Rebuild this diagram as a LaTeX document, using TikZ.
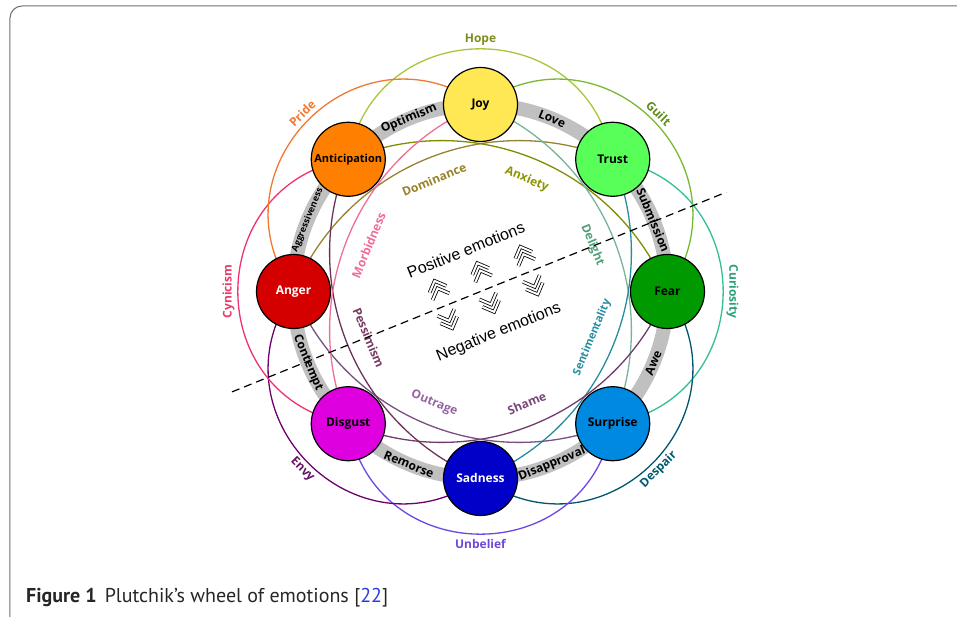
\documentclass[tikz,border=0pt]{standalone}
\usepackage{fontspec}
\usetikzlibrary{backgrounds}
\newfontfamily\lblfont{Open Sans}
\newfontfamily\moodfont{Liberation Sans}
\newfontfamily\capfont{PT Sans}

\definecolor{joycol}{RGB}{255,232,84}
\definecolor{trustcol}{RGB}{89,255,89}
\definecolor{fearcol}{RGB}{0,153,0}
\definecolor{surprisecol}{RGB}{0,137,224}
\definecolor{sadnesscol}{RGB}{0,0,200}
\definecolor{disgustcol}{RGB}{222,0,222}
\definecolor{angercol}{RGB}{212,0,0}
\definecolor{antcol}{RGB}{255,127,0}
\definecolor{bandgray}{RGB}{192,192,192}
\definecolor{framegray}{RGB}{110,110,110}
\definecolor{refblue}{RGB}{40,60,230}

\definecolor{hopeline}{RGB}{168,198,58}
\definecolor{hopetext}{RGB}{128,140,30}
\definecolor{guiltline}{RGB}{120,184,50}
\definecolor{guilttext}{RGB}{96,140,30}
\definecolor{curiosityline}{RGB}{50,190,150}
\definecolor{curiositytext}{RGB}{40,160,120}
\definecolor{despairline}{RGB}{0,85,110}
\definecolor{despairtext}{RGB}{0,90,110}
\definecolor{unbeliefline}{RGB}{110,70,230}
\definecolor{unbelieftext}{RGB}{110,70,220}
\definecolor{envyline}{RGB}{110,0,110}
\definecolor{envytext}{RGB}{100,20,100}
\definecolor{cynicismline}{RGB}{240,50,110}
\definecolor{cynicismtext}{RGB}{232,60,105}
\definecolor{prideline}{RGB}{240,120,50}
\definecolor{pridetext}{RGB}{240,120,50}

\definecolor{dominanceline}{RGB}{150,130,50}
\definecolor{dominancetext}{RGB}{150,130,40}
\definecolor{anxietyline}{RGB}{130,140,0}
\definecolor{anxietytext}{RGB}{140,150,0}
\definecolor{delightline}{RGB}{120,180,150}
\definecolor{delighttext}{RGB}{80,160,120}
\definecolor{sentimentline}{RGB}{40,140,160}
\definecolor{sentimenttext}{RGB}{40,140,160}
\definecolor{shameline}{RGB}{110,60,110}
\definecolor{shametext}{RGB}{120,70,120}
\definecolor{outrageline}{RGB}{120,80,130}
\definecolor{outragetext}{RGB}{150,100,160}
\definecolor{pessimismline}{RGB}{110,50,90}
\definecolor{pessimismtext}{RGB}{120,60,100}
\definecolor{morbidline}{RGB}{240,110,150}
\definecolor{morbidtext}{RGB}{240,110,150}

\tikzset{
    emotion/.style={circle, draw, line width=1.2pt, minimum size=74pt, inner sep=0pt,
        font=\lblfont\bfseries\fontsize{12}{14}\selectfont},
    band/.style={line width=14pt, draw=bandgray},
    bandlabel/.style={inner sep=0pt, font=\lblfont\bfseries\fontsize{12}{14}\selectfont},
    dyad/.style={line width=1.3pt},
    dyadlabel/.style={inner sep=0pt, font=\lblfont\bfseries\fontsize{12}{14}\selectfont},
    secondary/.style={bend right=80, looseness=1.45},
    tertiary/.style={bend right=45},
    divider/.style={line width=1.2pt, dash pattern=on 8pt off 5pt},
    mood/.style={inner sep=0pt, font=\moodfont\fontsize{16}{19}\selectfont},
    chevron/.style={double, double distance=2pt, line width=0.8pt},
    frame/.style={draw=framegray, line width=1pt, rounded corners=12pt}
}

\begin{document}
\begin{tikzpicture}[x=1pt, y=1pt]
        \useasboundingbox (-480.5,-325.5) rectangle (476.5,291.5);
        \clip (-480.5,-325.5) rectangle (476.5,291.5);
        \draw[frame] (-470.5,-340) rectangle (520,285.5);

        \coordinate(hub) at (0,0);
        \node(joy) [emotion, fill=joycol] at (90:187) {Joy};
        \node(trust) [emotion, fill=trustcol] at (45:187) {Trust};
        \node(fear) [emotion, fill=fearcol] at (0:187) {Fear};
        \node(surprise) [emotion, fill=surprisecol] at (-45:187) {Surprise};
        \node(sadness) [emotion, fill=sadnesscol, text=white] at (-90:187) {Sadness};
        \node(disgust) [emotion, fill=disgustcol] at (-135:187) {Disgust};
        \node(anger) [emotion, fill=angercol, text=white] at (180:187) {Anger};
        \node(ant) [emotion, fill=antcol, font=\lblfont\bfseries\fontsize{11}{13}\selectfont] at (135:187) {Anticipation};

        \begin{pgfonlayer}{background}
            \draw[band] (hub) circle (187);

            \draw[dyad, hopeline] (trust.center) to[secondary] (ant.center);
            \draw[dyad, guiltline] (fear.center) to[secondary] (joy.center);
            \draw[dyad, curiosityline] (surprise.center) to[secondary] (trust.center);
            \draw[dyad, despairline] (sadness.center) to[secondary] (fear.center);
            \draw[dyad, unbeliefline] (disgust.center) to[secondary] (surprise.center);
            \draw[dyad, envyline] (anger.center) to[secondary] (sadness.center);
            \draw[dyad, cynicismline] (ant.center) to[secondary] (disgust.center);
            \draw[dyad, prideline] (joy.center) to[secondary] (anger.center);

            \draw[dyad, dominanceline] (trust.center) to[tertiary] (anger.center);
            \draw[dyad, anxietyline] (fear.center) to[tertiary] (ant.center);
            \draw[dyad, delightline] (surprise.center) to[tertiary] (joy.center);
            \draw[dyad, sentimentline] (sadness.center) to[tertiary] (trust.center);
            \draw[dyad, shameline] (disgust.center) to[tertiary] (fear.center);
            \draw[dyad, outrageline] (anger.center) to[tertiary] (surprise.center);
            \draw[dyad, pessimismline] (ant.center) to[tertiary] (sadness.center);
            \draw[dyad, morbidline] (joy.center) to[tertiary] (disgust.center);
        \end{pgfonlayer}

        \node(optimism) [bandlabel, rotate=22.5] at (112.5:187) {Optimism};
        \node(love) [bandlabel, rotate=-22.5] at (67.5:187) {Love};
        \node(submission) [bandlabel, rotate=-67.5] at (22.5:187) {Submission};
        \node(awe) [bandlabel, rotate=67.5] at (-22.5:187) {Awe};
        \node(disapproval) [bandlabel, rotate=22.5] at (-67.5:187) {Disapproval};
        \node(remorse) [bandlabel, rotate=-22.5] at (-112.5:187) {Remorse};
        \node(contempt) [bandlabel, rotate=-67.5] at (-157.5:187) {Contempt};
        \node(aggressiveness) [bandlabel, rotate=67.5, font=\lblfont\bfseries\fontsize{9}{11}\selectfont] at (157.5:187) {Aggressiveness};

        \node(hope) [dyadlabel, text=hopetext] at (90:252) {Hope};
        \node(guilt) [dyadlabel, text=guilttext, rotate=-45] at (45:252) {Guilt};
        \node(curiosity) [dyadlabel, text=curiositytext, rotate=-90] at (0:252) {Curiosity};
        \node(despair) [dyadlabel, text=despairtext, rotate=45] at (-45:252) {Despair};
        \node(unbelief) [dyadlabel, text=unbelieftext] at (-90:252) {Unbelief};
        \node(envy) [dyadlabel, text=envytext, rotate=-45] at (-135:252) {Envy};
        \node(cynicism) [dyadlabel, text=cynicismtext, rotate=90] at (180:252) {Cynicism};
        \node(pride) [dyadlabel, text=pridetext, rotate=45] at (135:252) {Pride};

        \node(dominance) [dyadlabel, text=dominancetext, rotate=22.5] at (112.5:121) {Dominance};
        \node(anxiety) [dyadlabel, text=anxietytext, rotate=-22.5] at (67.5:121) {Anxiety};
        \node(delight) [dyadlabel, text=delighttext, rotate=-67.5] at (22.5:121) {Delight};
        \node(sentimentality) [dyadlabel, text=sentimenttext, rotate=67.5, font=\lblfont\bfseries\fontsize{11}{13}\selectfont] at (-22.5:121) {Sentimentality};
        \node(shame) [dyadlabel, text=shametext, rotate=22.5] at (-67.5:121) {Shame};
        \node(outrage) [dyadlabel, text=outragetext, rotate=-22.5] at (-112.5:121) {Outrage};
        \node(pessimism) [dyadlabel, text=pessimismtext, rotate=-67.5] at (-157.5:121) {Pessimism};
        \node(morbidness) [dyadlabel, text=morbidtext, rotate=67.5] at (157.5:121) {Morbidness};

        \coordinate(divleft) at (202:268);
        \coordinate(divright) at (22:265);
        \draw[divider] (divleft) -- (divright);

        \node(positive) [mood, rotate=22] at (-14.6,41.5) {Positive emotions};
        \node(negative) [mood, rotate=22] at (18.3,-41.1) {Negative emotions};

        \begin{scope}[rotate=22]
            \draw[chevron] (-47.6,18) -- (-38.6,27) -- (-29.6,18);
            \draw[chevron] (-47.6,10) -- (-38.6,19) -- (-29.6,10);
            \draw[chevron] (-1.4,18.5) -- (7.6,27.5) -- (16.6,18.5);
            \draw[chevron] (-1.4,10.5) -- (7.6,19.5) -- (16.6,10.5);
            \draw[chevron] (44.7,17.5) -- (53.7,26.5) -- (62.7,17.5);
            \draw[chevron] (44.7,9.5) -- (53.7,18.5) -- (62.7,9.5);
            \draw[chevron] (-49,-6.5) -- (-40,-15.5) -- (-31,-6.5);
            \draw[chevron] (-49,-14.5) -- (-40,-23.5) -- (-31,-14.5);
            \draw[chevron] (-4,-7) -- (5,-16) -- (14,-7);
            \draw[chevron] (-4,-15) -- (5,-24) -- (14,-15);
            \draw[chevron] (43,-7) -- (52,-16) -- (61,-7);
            \draw[chevron] (43,-15) -- (52,-24) -- (61,-15);
        \end{scope}

        \node(caption) [anchor=base west, inner sep=0pt, text=black!85, font=\capfont\fontsize{20}{24}\selectfont] at (-454.5,-310.5) {\textbf{Figure 1}\hspace{8pt}Plutchik’s wheel of emotions [\textcolor{refblue}{22}]};
    \end{tikzpicture}
\end{document}
